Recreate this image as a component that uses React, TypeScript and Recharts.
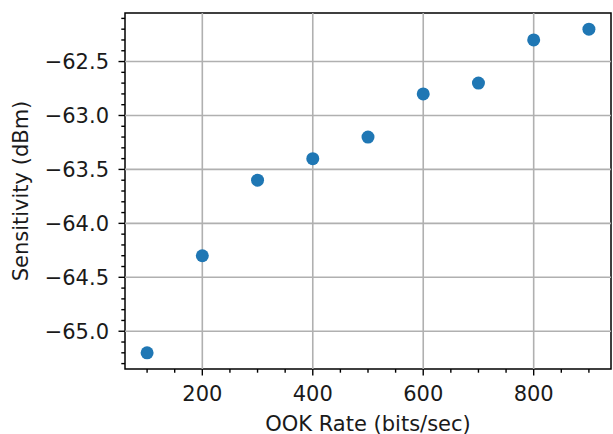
import { ScatterChart, Scatter, XAxis, YAxis, ReferenceLine, ReferenceArea } from "recharts";

// OOK rate (bits/sec) vs receiver sensitivity (dBm)
const rates = [100, 200, 300, 400, 500, 600, 700, 800, 900];
const sensitivity = [-65.2, -64.3, -63.6, -63.4, -63.2, -62.8, -62.7, -62.3, -62.2];

const xMajor = [200, 400, 600, 800];
const xMinor = [100, 150, 250, 300, 350, 450, 500, 550, 650, 700, 750, 850, 900];
const yMajor = [-65, -64.5, -64, -63.5, -63, -62.5];
const yMinor = [
  -65.3, -65.2, -65.1, -64.9, -64.8, -64.7, -64.6, -64.4, -64.3, -64.2, -64.1,
  -63.9, -63.8, -63.7, -63.6, -63.4, -63.3, -63.2, -63.1, -62.9, -62.8, -62.7,
  -62.6, -62.4, -62.3, -62.2, -62.1,
];

const xDomain = [60, 940];
const yDomain = [-65.35, -62.05];

const FONT = "DejaVu Sans, sans-serif";
const BLUE = "#1f77b4";

const data = rates.map((r, i) => ({ rate: r, sens: sensitivity[i] }));

const fmt = (v: number) => v.toFixed(1).replace("-", "\u2212");

const XTick = (props: any) => {
  const { x, y, payload } = props;
  const major = xMajor.includes(payload.value);
  return (
    <g>
      <line x1={x} x2={x} y1={y} y2={y + (major ? 6.5 : 3.7)} stroke="#000" strokeWidth={1.4} />
      {major && (
        <text x={x} y={y + 32} textAnchor="middle" fontSize={21} fontFamily={FONT} fill="#1a1a1a">
          {payload.value}
        </text>
      )}
    </g>
  );
};

const YTick = (props: any) => {
  const { x, y, payload } = props;
  const major = yMajor.includes(payload.value);
  return (
    <g>
      <line x1={x} x2={x - (major ? 6.5 : 3.7)} y1={y} y2={y} stroke="#000" strokeWidth={1.4} />
      {major && (
        <text x={x - 16} y={y} dy="0.36em" textAnchor="end" fontSize={21} fontFamily={FONT} fill="#1a1a1a">
          {fmt(payload.value)}
        </text>
      )}
    </g>
  );
};

const App = () => {
  return (
    <div style={{ position: "absolute", left: 0, top: 0, background: "#fff" }}>
      <ScatterChart width={613} height={434} margin={{ top: 13, right: 2, bottom: 0, left: 0 }}>
        <XAxis
          dataKey="rate"
          type="number"
          domain={xDomain}
          ticks={[...xMajor, ...xMinor].sort((a, b) => a - b)}
          interval={0}
          tickSize={0}
          tickMargin={0}
          tickLine={false}
          axisLine={false}
          tick={<XTick />}
          height={65}
          allowDataOverflow
          label={{
            content: ({ viewBox }: any) => (
              <text
                x={viewBox.x + viewBox.width / 2}
                y={viewBox.y + 61.5}
                textAnchor="middle"
                fontSize={21}
                fontFamily={FONT}
                fill="#1a1a1a"
              >
                OOK Rate (bits/sec)
              </text>
            ),
          }}
        />
        <YAxis
          dataKey="sens"
          type="number"
          domain={yDomain}
          ticks={[...yMajor, ...yMinor].sort((a, b) => a - b)}
          interval={0}
          tickSize={0}
          tickMargin={0}
          tickLine={false}
          axisLine={false}
          tick={<YTick />}
          width={125}
          allowDataOverflow
          label={{
            content: ({ viewBox }: any) => {
              const cx = viewBox.x + 28;
              const cy = viewBox.y + viewBox.height / 2;
              return (
                <text
                  x={cx}
                  y={cy}
                  transform={`rotate(-90, ${cx}, ${cy})`}
                  textAnchor="middle"
                  fontSize={21}
                  fontFamily={FONT}
                  fill="#1a1a1a"
                >
                  Sensitivity (dBm)
                </text>
              );
            },
          }}
        />
        {xMajor.map((v) => (
          <ReferenceLine key={`gx${v}`} x={v} stroke="#b0b0b0" strokeWidth={1.6} />
        ))}
        {yMajor.map((v) => (
          <ReferenceLine key={`gy${v}`} y={v} stroke="#b0b0b0" strokeWidth={1.6} />
        ))}
        <ReferenceArea
          x1={xDomain[0]}
          x2={xDomain[1]}
          y1={yDomain[0]}
          y2={yDomain[1]}
          fill="none"
          fillOpacity={0}
          stroke="#000"
          strokeWidth={1.5}
          ifOverflow="visible"
        />
        <Scatter
          data={data}
          isAnimationActive={false}
          shape={(p: any) => <circle cx={p.cx} cy={p.cy} r={6.5} fill={BLUE} />}
        />
      </ScatterChart>
    </div>
  );
};

export default App;
